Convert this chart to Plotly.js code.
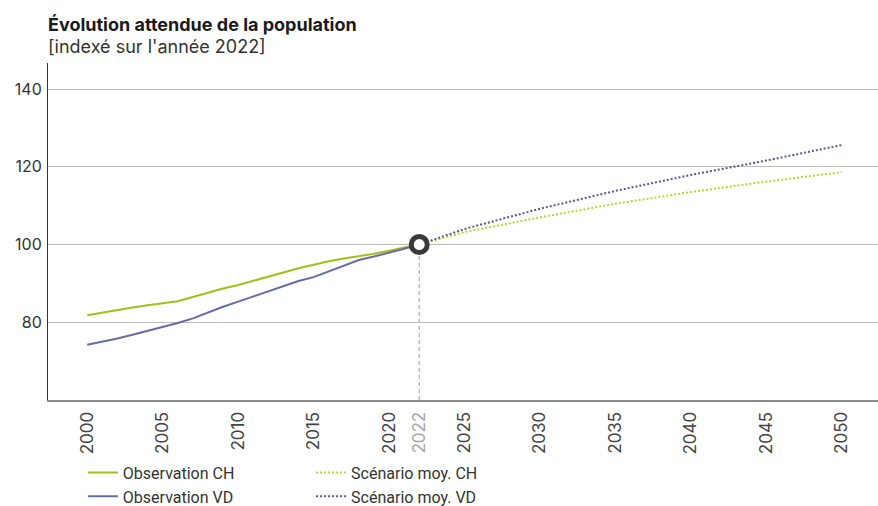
<!DOCTYPE html>
<html>
<head>
<meta charset="utf-8">
<script src="https://cdn.plot.ly/plotly-3.0.1.min.js"></script>
<style>html,body{margin:0;padding:0;background:#fff;}#chart{width:878px;height:506px;}</style>
</head>
<body>
<div id="chart"></div>
<script>
// ---- data ----
const obsYears = [2000,2001,2002,2003,2004,2005,2006,2007,2008,2009,2010,2011,2012,2013,2014,2015,2016,2017,2018,2019,2020,2021,2022];
const obsCH = [81.8,82.5,83.2,83.8,84.4,84.9,85.4,86.5,87.7,88.7,89.6,90.6,91.7,92.8,93.9,94.8,95.7,96.4,97.0,97.6,98.4,99.2,100];
const obsVD = [74.2,75.0,75.8,76.8,77.8,78.8,79.8,81.0,82.6,84.0,85.3,86.6,87.9,89.4,90.6,91.6,93.0,94.6,96.0,96.9,97.8,98.9,100];
const projYears = [2022,2025,2030,2035,2040,2045,2050];
const projCH = [100,103.2,107.0,110.5,113.5,116.2,118.6];
const projVD = [100,104.0,109.2,113.8,117.9,121.6,125.6];
const baseYear = [2022];
const baseValue = [100];
const tickYears = [2000,2005,2010,2015,2020,2022,2025,2030,2035,2040,2045,2050];
const tickLabels = ["2000","2005","2010","2015","2020","<span style=\"color:#a8a8a8\">2022</span>","2025","2030","2035","2040","2045","2050"];
const yTicks = [80,100,120,140];
const seriesNames = ["Observation CH","Observation VD","Scénario moy. CH","Scénario moy. VD"];
const titleText = "Évolution attendue de la population";
const subtitleText = "[indexé sur l'année 2022]";

const cCH = "#a4bf17", cVD = "#676ba6", cCHp = "#b9d42e", cVDp = "#565b8f";

const traces = [
  {x: obsYears, y: obsCH, name: seriesNames[0], mode: "lines", line: {color: cCH, width: 2}, legend: "legend"},
  {x: obsYears, y: obsVD, name: seriesNames[1], mode: "lines", line: {color: cVD, width: 2}, legend: "legend"},
  {x: projYears, y: projCH, name: seriesNames[2], mode: "lines", line: {color: cCHp, width: 2, dash: "2px,2px"}, legend: "legend2"},
  {x: projYears, y: projVD, name: seriesNames[3], mode: "lines", line: {color: cVDp, width: 2, dash: "2px,2px"}, legend: "legend2"},
  {x: baseYear, y: baseValue, mode: "markers", showlegend: false, hoverinfo: "skip",
   marker: {symbol: "circle", size: 16, color: "#ffffff", line: {color: "#3a3a3a", width: 5}}}
];

const fontMain = "Inter, 'Noto Sans', sans-serif";
const fontLeg = "Roboto, 'Noto Sans', sans-serif";

const layout = {
  width: 878, height: 506,
  margin: {l: 48, r: 0, t: 63, b: 106, autoexpand: false},
  paper_bgcolor: "#ffffff", plot_bgcolor: "#ffffff",
  annotations: [
    {text: "<b>" + titleText + "</b>", xref: "paper", yref: "paper", x: -0.003, y: 1.1128,
     xanchor: "left", yanchor: "middle", showarrow: false,
     font: {family: fontMain, size: 18, color: "#1a1a1a"}},
    {text: subtitleText, xref: "paper", yref: "paper", x: -0.003, y: 1.0475,
     xanchor: "left", yanchor: "middle", showarrow: false,
     font: {family: fontMain, size: 18, color: "#333333"}}
  ],
  xaxis: {
    range: [1997.4, 2052.4],
    tickmode: "array", tickvals: tickYears, ticktext: tickLabels,
    tickangle: -90, ticks: "",
    tickfont: {family: fontMain, size: 17, color: "#444444"},
    ticklabelstandoff: 3,
    showgrid: false, zeroline: false,
    showline: true, linecolor: "#8a8a8a", linewidth: 2
  },
  yaxis: {
    range: [60, 146.7],
    tickmode: "array", tickvals: yTicks,
    ticks: "",
    tickfont: {family: fontMain, size: 16, color: "#333333"},
    ticklabelstandoff: 2,
    showgrid: true, gridcolor: "#bdbdbd", gridwidth: 1,
    zeroline: false,
    showline: true, linecolor: "#333333", linewidth: 1
  },
  shapes: [
    {type: "line", xref: "x", yref: "y", x0: baseYear[0], x1: baseYear[0], y0: 60, y1: baseValue[0],
     line: {color: "#bdbdbd", width: 1.5, dash: "4px,3px"}, layer: "below"}
  ],
  showlegend: true,
  legend: {
    orientation: "v", x: 0.042, xanchor: "left", y: -0.165, yanchor: "top",
    font: {family: fontLeg, size: 16, color: "#333333"},
    bgcolor: "rgba(0,0,0,0)", itemwidth: 30, tracegroupgap: 0
  },
  legend2: {
    orientation: "v", x: 0.317, xanchor: "left", y: -0.165, yanchor: "top",
    font: {family: fontLeg, size: 16, color: "#333333"},
    bgcolor: "rgba(0,0,0,0)", itemwidth: 30, tracegroupgap: 0
  },
  hovermode: false
};

Plotly.newPlot("chart", traces, layout, {displayModeBar: false, staticPlot: true});
</script>
</body>
</html>
